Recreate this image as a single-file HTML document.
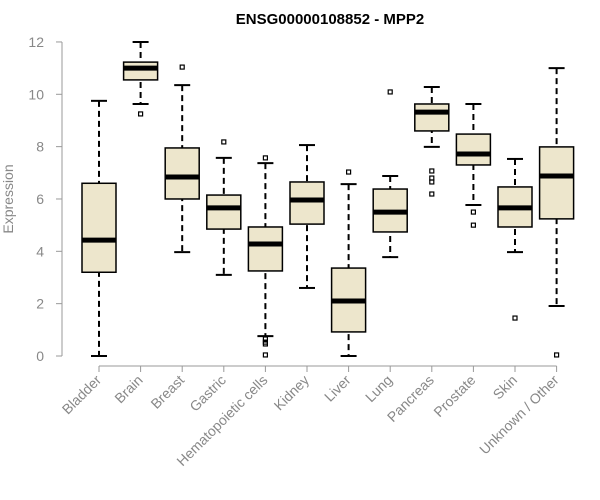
<!DOCTYPE html>
<html><head><meta charset="utf-8"><style>
body{margin:0;background:#fff;}
svg{display:block;font-family:"Liberation Sans",Arial,sans-serif;}
</style></head><body>
<svg id="chart" width="600" height="500">
<text x="330" y="24" text-anchor="middle" font-weight="bold" font-size="15" fill="#000">ENSG00000108852 - MPP2</text>
<text transform="translate(13,199) rotate(-90)" text-anchor="middle" font-size="14" fill="#888">Expression</text>
<g id="plot"></g>
</svg>
<script>
const categories=["Bladder","Brain","Breast","Gastric","Hematopoietic cells","Kidney","Liver","Lung","Pancreas","Prostate","Skin","Unknown / Other"];
const lows=[0,9.63,3.97,3.1,0.76,2.6,0,3.78,7.99,5.77,3.97,1.91];
const q1s=[3.2,10.55,6.0,4.85,3.25,5.04,0.92,4.74,8.6,7.3,4.93,5.24];
const medians=[4.43,11.0,6.84,5.66,4.28,5.96,2.1,5.5,9.32,7.72,5.66,6.88];
const q3s=[6.6,11.23,7.95,6.15,4.93,6.65,3.36,6.38,9.63,8.48,6.46,7.99];
const highs=[9.75,12,10.35,7.57,7.37,8.06,6.57,6.88,10.28,9.63,7.53,11.0];
const outliers=[[],[9.25],[11.04],[8.18],[7.57,0.65,0.53,0.46,0.04],[],[7.03],[10.09],[7.07,6.8,6.65,6.19],[5.5,5.0],[1.45],[0.04]];
const yTicks=[0,2,4,6,8,10,12];
const NS="http://www.w3.org/2000/svg";
const g=document.getElementById('plot');
const y=v=>356-v*26.17;
const x=i=>99+i*41.6;
function mk(t,a){const e=document.createElementNS(NS,t);for(const k in a)e.setAttribute(k,a[k]);g.appendChild(e);return e;}
let ax=mk('line',{x1:62,x2:62,y1:y(12),y2:y(0),stroke:'#999'});


yTicks.forEach(v=>{
 const t=mk('line',{x1:56,x2:62,y1:y(v),y2:y(v),stroke:'#999'});
 
 
 const l=mk('text',{x:44,y:y(v)+5,'text-anchor':'end','font-size':14,fill:'#888'});
 l.textContent=v;
 
 
});
let bx=mk('line',{x1:x(0),x2:x(11),y1:366,y2:366,stroke:'#999'});


categories.forEach((c,i)=>{
 const cx=x(i),w=17;
 const t=mk('line',{x1:cx,x2:cx,y1:366,y2:372,stroke:'#999'});
 
 
 const l=mk('text',{x:cx+3,y:381,'text-anchor':'end','font-size':14,fill:'#888',transform:`rotate(-45 ${cx+3} 381)`});
 l.textContent=c;
 
 
 const wh=mk('line',{x1:cx,x2:cx,y1:y(highs[i]),y2:y(lows[i]),stroke:'#000','stroke-width':2,'stroke-dasharray':'6,4'});
 
 
 [highs[i],lows[i]].forEach(v=>{const c2=mk('line',{x1:cx-8,x2:cx+8,y1:y(v),y2:y(v),stroke:'#000','stroke-width':2});
  
  });
 const b=mk('rect',{x:cx-w,y:y(q3s[i]),width:2*w,height:y(q1s[i])-y(q3s[i]),fill:'#ede6cc',stroke:'#000','stroke-width':1.5});
 
 
 const m=mk('line',{x1:cx-w,x2:cx+w,y1:y(medians[i]),y2:y(medians[i]),stroke:'#000','stroke-width':5});
 
 
 outliers[i].forEach(v=>{const o=mk('rect',{x:cx-2,y:y(v)-2,width:4,height:4,fill:'none',stroke:'#000','stroke-width':1.2});
  
  });
});
</script>
</body></html>
